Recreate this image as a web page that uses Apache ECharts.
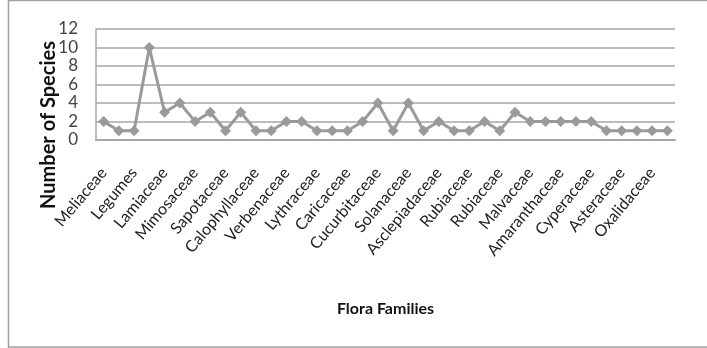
<!DOCTYPE html>
<html>
<head>
<meta charset="utf-8">
<script src="https://cdn.jsdelivr.net/npm/echarts@6/dist/echarts.min.js"></script>
<style>
html,body{margin:0;padding:0;background:#fff;}
#chart{width:707px;height:348px;}
</style>
</head>
<body>
<div id="chart"></div>
<script>
// Categories (only every other one is labelled in the reference)
var categories = [
  "Meliaceae", "", "Legumes", "", "Lamiaceae", "", "Mimosaceae", "", "Sapotaceae", "",
  "Calophyllaceae", "", "Verbenaceae", "", "Lythraceae", "", "Caricaceae", "", "Cucurbitaceae", "",
  "Solanaceae", "", "Asclepiadaceae", "", "Rubiaceae", "", "Rubiaceae", "", "Malvaceae", "",
  "Amaranthaceae", "", "Cyperaceae", "", "Asteraceae", "", "Oxalidaceae", ""
];
var speciesCounts = [
  2, 1, 1, 10, 3, 4, 2, 3, 1, 3,
  1, 1, 2, 2, 1, 1, 1, 2, 4, 1,
  4, 1, 2, 1, 1, 2, 1, 3, 2, 2,
  2, 2, 2, 1, 1, 1, 1, 1
];
var yTicks = [0, 2, 4, 6, 8, 10, 12];
var xAxisTitle = "Flora Families";
var yAxisTitle = "Number of Species";

var chart = echarts.init(document.getElementById('chart'), null, {renderer: 'canvas'});
var font = 'Lato, "Open Sans", sans-serif';
chart.setOption({
  animation: false,
  backgroundColor: '#ffffff',
  grid: {left: 96, right: 32, top: 29, bottom: 208, containLabel: false},
  xAxis: {
    type: 'category',
    data: categories,
    boundaryGap: true,
    name: xAxisTitle,
    nameLocation: 'middle',
    nameGap: 161,
    nameTextStyle: {fontFamily: font, fontWeight: 'bold', fontSize: 16, color: '#111'},
    axisLine: {show: true, lineStyle: {color: '#a6a6a6', width: 2}},
    axisTick: {show: false},
    axisLabel: {
      interval: 1, rotate: 50, margin: 30, fontFamily: font, fontSize: 16, color: '#222'
    },
    splitLine: {show: false}
  },
  yAxis: {
    type: 'value',
    min: yTicks[0],
    max: yTicks[yTicks.length - 1],
    interval: 2,
    axisLine: {show: true, lineStyle: {color: '#a6a6a6', width: 1.5}},
    axisTick: {show: false},
    axisLabel: {margin: 18, fontFamily: font, fontSize: 17, color: '#444'},
    splitLine: {show: true, lineStyle: {color: '#a6a6a6', width: 1.5}}
  },
  series: [{
    type: 'line',
    data: speciesCounts,
    symbol: 'diamond',
    symbolSize: 11,
    showAllSymbol: true,
    lineStyle: {color: '#9a9a9a', width: 3},
    itemStyle: {color: '#9a9a9a'}
  }],
  graphic: [
    {
      type: 'rect',
      shape: {x: 8.5, y: 0.5, width: 700, height: 346.5},
      style: {fill: 'none', stroke: '#a0a0a0', lineWidth: 1.5},
      silent: true, z: -1
    },
    {
      type: 'text',
      x: 49, y: 125,
      rotation: Math.PI / 2,
      style: {
        text: yAxisTitle, fontFamily: font, fontWeight: 'bold', fontSize: 20,
        fill: '#111', align: 'center', verticalAlign: 'middle'
      }
    }
  ]
});
</script>
</body>
</html>
